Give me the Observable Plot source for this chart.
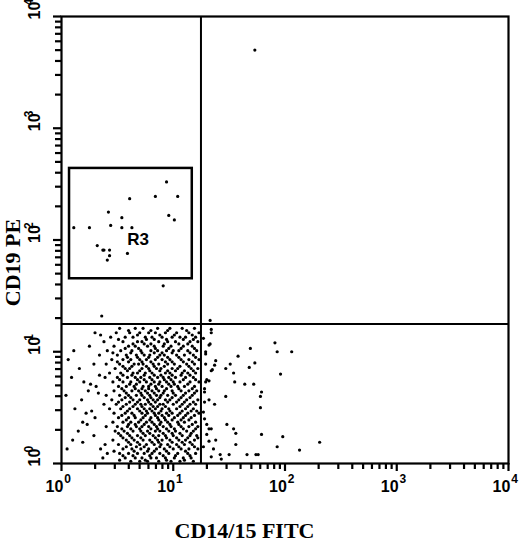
<!DOCTYPE html>
<html><head><meta charset="utf-8">
<script src="https://cdn.jsdelivr.net/npm/d3@7"></script>
<script src="https://cdn.jsdelivr.net/npm/@observablehq/plot@0.6"></script>
<style>body{margin:0;background:#fff}#chart svg{display:block}</style>
</head><body><div id="chart"></div>
<script>
// Log10 intensities (CD19 PE level per row, CD14/15 FITC values in that row)
const peLevelsA = [1.21,1.17,1.13,1.09,1.05,1.01,0.97,0.93,0.89,0.85,0.81,0.77,0.73,0.69,0.65,0.61,0.57,0.53,0.49,0.45,0.41,0.37,0.33,0.29,0.25,0.21,0.17,0.13,0.09,0.05,0.02];
const fitcRowsA = [
 [0.52,0.66,0.73,0.86,0.97,1.08,1.19],
 [0.30,0.49,0.61,0.70,0.78,0.84,0.93,1.03,1.14,1.23],
 [0.44,0.57,0.64,0.75,0.81,0.90,0.99,1.06,1.11,1.20],
 [0.38,0.55,0.68,0.72,0.87,0.95,1.02,1.15,1.22],
 [0.25,0.47,0.60,0.66,0.77,0.83,0.91,0.98,1.09,1.17],
 [0.11,0.41,0.53,0.63,0.71,0.80,0.86,0.94,1.00,1.05,1.13,1.21],
 [0.34,0.50,0.58,0.67,0.74,0.79,0.88,0.92,1.03,1.10,1.18],
 [0.06,0.45,0.55,0.62,0.70,0.76,0.84,0.90,0.97,1.07,1.14,1.23],
 [0.29,0.40,0.52,0.65,0.69,0.73,0.82,0.87,0.95,1.01,1.12,1.19],
 [0.16,0.48,0.57,0.61,0.72,0.78,0.85,0.89,0.99,1.04,1.16,1.22],
 [0.43,0.53,0.64,0.68,0.75,0.81,0.93,0.97,1.08,1.13,1.20],
 [0.09,0.39,0.50,0.59,0.66,0.71,0.79,0.86,0.91,0.96,1.02,1.11,1.18],
 [0.20,0.46,0.55,0.62,0.70,0.76,0.83,0.88,0.94,1.00,1.06,1.15,1.23],
 [0.31,0.51,0.58,0.65,0.73,0.78,0.84,0.90,0.98,1.04,1.10,1.19],
 [0.24,0.47,0.56,0.63,0.69,0.75,0.81,0.87,0.92,0.99,1.07,1.14,1.21],
 [0.04,0.40,0.52,0.60,0.67,0.72,0.79,0.85,0.89,0.95,1.02,1.09,1.17],
 [0.18,0.45,0.54,0.64,0.70,0.77,0.82,0.86,0.93,0.97,1.05,1.12,1.22],
 [0.38,0.49,0.58,0.66,0.71,0.75,0.80,0.88,0.91,1.00,1.08,1.15,1.20],
 [0.12,0.43,0.53,0.61,0.68,0.74,0.79,0.84,0.90,0.96,1.03,1.11,1.18],
 [0.22,0.47,0.57,0.63,0.72,0.77,0.83,0.87,0.94,0.99,1.06,1.13,1.23],
 [0.30,0.51,0.60,0.66,0.73,0.80,0.86,0.92,1.01,1.09,1.16],
 [0.19,0.46,0.55,0.62,0.69,0.76,0.81,0.89,0.95,1.04,1.10,1.20],
 [0.40,0.50,0.59,0.67,0.72,0.78,0.85,0.91,0.98,1.07,1.14,1.22],
 [0.15,0.48,0.56,0.64,0.71,0.77,0.84,0.88,0.96,1.02,1.12,1.18],
 [0.29,0.53,0.61,0.68,0.75,0.82,0.87,0.93,1.00,1.08,1.15,1.21],
 [0.10,0.46,0.58,0.65,0.73,0.79,0.86,0.90,0.97,1.05,1.11,1.19],
 [0.39,0.51,0.62,0.70,0.76,0.83,0.89,0.95,1.03,1.10,1.17],
 [0.05,0.35,0.55,0.63,0.71,0.78,0.85,0.92,1.00,1.07,1.14,1.22],
 [0.41,0.52,0.60,0.68,0.74,0.81,0.88,0.96,1.04,1.13,1.20],
 [0.37,0.57,0.66,0.72,0.80,0.85,0.93,1.01,1.09,1.16],
 [0.62,0.70,0.77,0.87,0.98,1.06,1.18]
];
const peLevelsB = [1.19,1.15,1.11,1.07,1.03,0.99,0.95,0.91,0.87,0.83,0.79,0.75,0.71,0.67,0.63,0.59,0.55,0.51,0.47,0.43,0.39,0.35,0.31,0.27,0.23,0.19,0.15,0.11,0.07,0.03];
const fitcRowsB = [
 [0.60,0.80,0.95,1.12],
 [0.35,0.68,0.88,1.01,1.17],
 [0.51,0.76,0.83,0.94,1.09,1.18],
 [0.64,0.74,0.80,0.92,1.05,1.13],
 [0.57,0.69,0.84,0.96,1.07,1.19],
 [0.46,0.62,0.72,0.83,0.90,0.99,1.15],
 [0.59,0.68,0.78,0.86,0.95,1.05,1.20],
 [0.50,0.60,0.72,0.80,0.93,0.99,1.09,1.17],
 [0.55,0.63,0.76,0.83,0.92,1.06,1.14],
 [0.59,0.70,0.79,0.88,0.95,1.02,1.10,1.18],
 [0.34,0.55,0.63,0.74,0.83,0.89,0.99,1.07,1.15],
 [0.52,0.68,0.74,0.81,0.92,0.98,1.09,1.20],
 [0.26,0.61,0.67,0.80,0.87,0.96,1.01,1.13],
 [0.54,0.66,0.72,0.78,0.85,0.94,1.05,1.17],
 [0.33,0.58,0.71,0.77,0.83,0.91,1.00,1.11,1.19],
 [0.57,0.62,0.74,0.80,0.88,0.99,1.07,1.15],
 [0.51,0.61,0.68,0.78,0.84,0.95,1.03,1.10,1.18],
 [0.55,0.64,0.72,0.82,0.86,0.93,1.06,1.13],
 [0.27,0.59,0.70,0.76,0.81,0.89,0.97,1.08,1.16,1.21],
 [0.54,0.65,0.75,0.84,0.90,0.96,1.04,1.11,1.19],
 [0.58,0.71,0.79,0.87,0.93,0.99,1.07,1.14],
 [0.23,0.60,0.66,0.74,0.83,0.88,0.97,1.05,1.17],
 [0.54,0.62,0.70,0.80,0.86,0.94,1.01,1.09,1.20],
 [0.51,0.59,0.73,0.79,0.91,0.99,1.06,1.16],
 [0.55,0.63,0.71,0.84,0.94,1.03,1.13,1.22],
 [0.19,0.60,0.68,0.81,0.87,0.99,1.08,1.15],
 [0.58,0.67,0.74,0.88,0.97,1.05,1.19],
 [0.47,0.65,0.77,0.83,0.94,1.11],
 [0.55,0.64,0.79,0.91,1.02,1.15],
 [0.52,0.75,0.94,1.10]
];
// CD14/15+ events (lower right) as [log FITC, log PE]
const lowerRight = [[1.29,1.00],[1.29,0.98],[1.32,1.06],[1.33,1.07],[1.34,1.20],[1.34,1.17],[1.69,1.03],[1.91,1.08],[1.93,1.00],[2.06,1.00],[1.58,0.96],[1.73,0.90],[1.68,0.86],[1.51,0.89],[1.47,0.85],[1.54,0.81],[1.96,0.80],[1.38,0.92],[1.37,0.88],[1.35,0.84],[1.34,0.83],[1.29,0.89],[1.30,0.75],[1.32,0.74],[1.29,0.73],[1.55,0.73],[1.64,0.71],[1.72,0.71],[1.28,0.67],[1.28,0.64],[1.79,0.64],[1.78,0.60],[1.47,0.60],[1.32,0.57],[1.28,0.55],[1.37,0.53],[1.78,0.50],[1.27,0.46],[1.30,0.35],[1.32,0.31],[1.34,0.31],[1.48,0.35],[1.54,0.31],[1.56,0.27],[1.79,0.26],[1.98,0.24],[1.32,0.20],[1.38,0.21],[1.56,0.17],[1.93,0.15],[1.36,0.13],[2.13,0.12],[2.31,0.19],[1.34,0.06],[1.42,0.08],[1.43,0.04],[1.50,0.08],[1.66,0.08],[1.74,0.08],[1.76,0.08],[1.27,1.12],[1.28,0.40],[1.27,0.15],[1.30,0.26]];
// CD19+ events in gate R3 and other scattered events
const gateR3Events = [[0.11,2.11],[0.25,2.11],[0.42,2.25],[0.44,2.13],[0.54,2.11],[0.54,2.20],[0.61,2.37],[0.63,2.11],[0.84,2.39],[0.94,2.52],[1.04,2.39],[0.96,2.22],[1.01,2.18],[0.32,1.95],[0.37,1.91],[0.38,1.91],[0.43,1.91],[0.43,1.86],[0.41,1.82],[0.59,1.88]];
const strayEvents = [[1.33,1.28],[0.36,1.32],[0.91,1.59],[1.73,3.70]];

const quadrantX = 17.7, quadrantY = 17.7;
const gateR3 = {x1: 1.18, x2: 14.8, y1: 45, y2: 437, label: "R3", lx: 4.84, ly: 100};
const decades = [1, 10, 100, 1000, 10000];
const exponents = ["0", "1", "2", "3", "4"];
const xTitle = "CD14/15 FITC", yTitle = "CD19 PE";

const events = [];
peLevelsA.forEach((ly, i) => fitcRowsA[i].forEach(lx => events.push({fitc: 10 ** lx, pe: 10 ** ly})));
peLevelsB.forEach((ly, i) => fitcRowsB[i].forEach(lx => events.push({fitc: 10 ** lx, pe: 10 ** ly})));
[...lowerRight, ...gateR3Events, ...strayEvents].forEach(([lx, ly]) => events.push({fitc: 10 ** lx, pe: 10 ** ly}));

const minorTicks = [];
decades.slice(0, -1).forEach(d => { for (let m = 2; m <= 9; m++) minorTicks.push(d * m); });

const W = 520, H = 543, mL = 61, mR = 12, mT = 16, mB = 80;
const frameW = W - mL - mR, frameH = H - mT - mB;

const tickFont = {fontFamily: "Liberation Sans, Arial, sans-serif", fontWeight: "bold", fill: "black"};
const titleFont = {fontFamily: "Liberation Serif, Times New Roman, serif", fontWeight: "bold", fontSize: 22, fill: "black"};
const noLabel = () => "";

const chart = Plot.plot({
  width: W, height: H,
  marginLeft: mL, marginRight: mR, marginTop: mT, marginBottom: mB,
  x: {type: "log", domain: [1, 1e4], axis: null},
  y: {type: "log", domain: [1, 1e4], axis: null},
  style: {background: "#fff", color: "black"},
  marks: [
    // outward log ticks (labels drawn separately as 10^n)
    Plot.axisX(minorTicks, {anchor: "bottom", tickSize: 6, tickFormat: noLabel, stroke: "black", strokeWidth: 2.2, label: null}),
    Plot.axisX(decades, {anchor: "bottom", tickSize: 8, tickFormat: noLabel, stroke: "black", strokeWidth: 2.2, label: null}),
    Plot.axisY(minorTicks, {anchor: "left", tickSize: 6, tickFormat: noLabel, stroke: "black", strokeWidth: 2.2, label: null}),
    Plot.axisY(decades, {anchor: "left", tickSize: 8, tickFormat: noLabel, stroke: "black", strokeWidth: 2.2, label: null}),
    Plot.frame({stroke: "black", strokeWidth: 2.2}),
    Plot.ruleX([quadrantX], {stroke: "black", strokeWidth: 2}),
    Plot.ruleY([quadrantY], {stroke: "black", strokeWidth: 2}),
    Plot.rect([gateR3], {x1: "x1", x2: "x2", y1: "y1", y2: "y2", fill: "none", stroke: "black", strokeWidth: 2.5}),
    Plot.dot(events, {x: "fitc", y: "pe", r: 1.6, fill: "black", stroke: "none"}),
    Plot.text([gateR3], {x: "lx", y: "ly", text: "label", fontSize: 17, ...tickFont}),
    // x tick labels 10^n
    Plot.text(decades, {x: d => d, text: () => "10", frameAnchor: "bottom", dy: 28, dx: -7, fontSize: 16, ...tickFont}),
    Plot.text(decades, {x: d => d, text: (d, i) => exponents[i], frameAnchor: "bottom", dy: 19, dx: 6, fontSize: 12, ...tickFont}),
    // y tick labels 10^n (rotated)
    Plot.text(decades, {y: d => d, text: () => "10", frameAnchor: "left", dx: -27, dy: 3, rotate: -90, fontSize: 16, ...tickFont}),
    Plot.text(decades, {y: d => d, text: (d, i) => exponents[i], frameAnchor: "left", dx: -32, dy: -11, rotate: -90, fontSize: 12, ...tickFont}),
    // axis titles
    Plot.text([xTitle], {frameAnchor: "bottom", dx: -40, dy: 68, ...titleFont}),
    Plot.text([yTitle], {frameAnchor: "left", rotate: -90, ...titleFont})
  ]
});
document.getElementById("chart").append(chart);

// centre the axis titles where the reference has them (relative to the plot frame)
function centreText(str, cx, cy) {
  const el = [...chart.querySelectorAll("text")].find(t => t.textContent === str);
  if (!el) return;
  const b = el.getBoundingClientRect(), s = chart.getBoundingClientRect();
  const ox = b.left - s.left + b.width / 2, oy = b.top - s.top + b.height / 2;
  el.setAttribute("transform", `translate(${cx - ox},${cy - oy}) ` + (el.getAttribute("transform") || ""));
}
centreText(yTitle, 12, mT + frameH / 2 + 23);
centreText(xTitle, mL + frameW / 2 - 40, H - 13);
</script></body></html>
